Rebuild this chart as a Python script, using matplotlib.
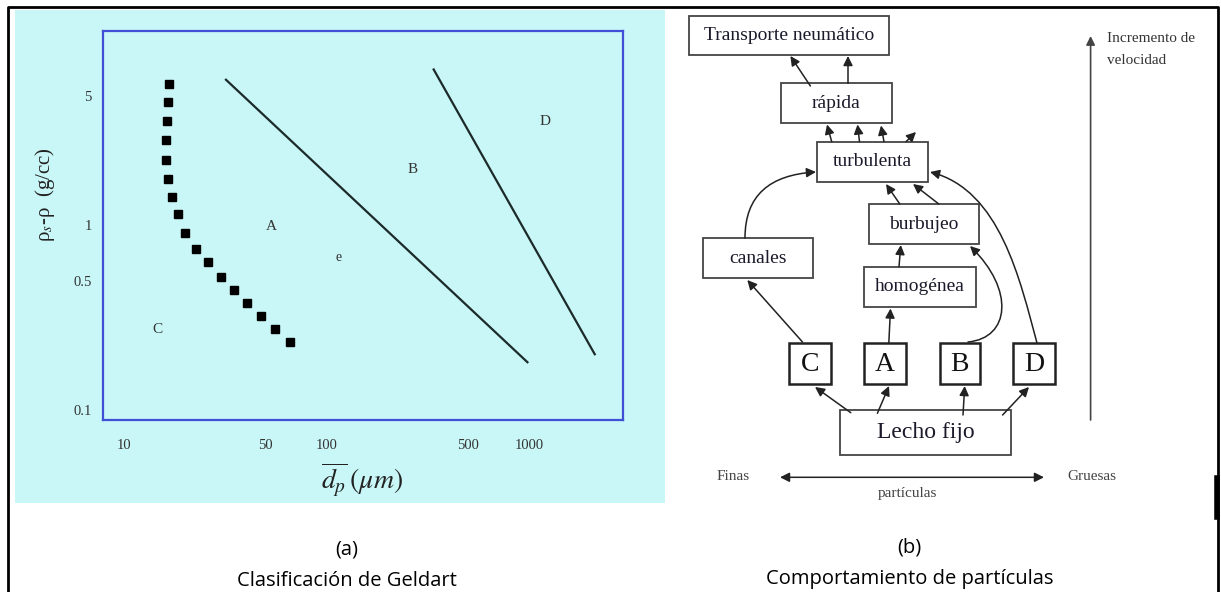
import matplotlib
matplotlib.use("Agg")
import matplotlib.pyplot as plt
from matplotlib.patches import Rectangle, FancyArrowPatch
from matplotlib.path import Path

plt.rcParams['font.family'] = ['Liberation Serif', 'DejaVu Serif']
plt.rcParams['mathtext.fontset'] = 'stix'

W, H = 1221, 592

# --- datos (a): clasificacion de Geldart ---
# frontera C/A (puntos cuadrados)
ca_dp = [16.8, 16.5, 16.3, 16.2, 16.2, 16.6, 17.2, 18.5, 20.1, 22.7, 25.9,
         30.1, 35.0, 40.7, 47.6, 55.6, 65.9]
ca_rho = [5.86, 4.64, 3.66, 2.89, 2.27, 1.79, 1.43, 1.15, 0.913, 0.742, 0.629,
          0.522, 0.447, 0.377, 0.323, 0.274, 0.232]
# frontera A/B
ab_dp = [31.9, 977]
ab_rho = [6.15, 0.181]
# frontera B/D
bd_dp = [337, 2097]
bd_rho = [6.99, 0.20]
# etiquetas de zona
zonas = ["A", "B", "C", "D", "e"]
zonas_dp = [53.1, 264, 14.7, 1189, 115]
zonas_rho = [0.98, 2.01, 0.273, 3.67, 0.667]
xticks = [10, 50, 100, 500, 1000]
yticks = [0.1, 0.5, 1, 5]

# --- datos (b): comportamiento de particulas ---
cajas = {
    "trans": ("Transporte neumático", (688.6, 15.7, 888.8, 55.0)),
    "rapida": ("rápida", (781.0, 83.3, 891.5, 123.3)),
    "turb": ("turbulenta", (817.3, 141.7, 928.4, 182.3)),
    "burb": ("burbujeo", (869.0, 204.0, 978.8, 244.3)),
    "canales": ("canales", (703.0, 238.3, 812.8, 278.3)),
    "homog": ("homogénea", (864.0, 266.7, 975.7, 306.7)),
    "lecho": ("Lecho fijo", (839.8, 410.0, 1011.3, 455.0)),
}
grupos = ["C", "A", "B", "D"]
grupos_x = [(789.4, 830.8), (864.0, 906.0), (939.5, 979.5), (1013.0, 1055.4)]
grupos_y = (343.3, 384.0)

flechas = [
    ((810.4, 86), (790.4, 56)), ((848, 83.3), (848, 56)),
    ((831.7, 141.7), (827, 124.5)), ((859.5, 141.7), (857.5, 124.5)),
    ((884, 141.7), (881, 125.5)), ((906, 141.7), (916, 132)),
    ((899.8, 204), (886, 184)), ((938.8, 204), (913, 184)),
    ((899, 266.7), (900.8, 245)), ((888.8, 343.3), (890.5, 308.5)),
    ((802.5, 342), (747.3, 280)),
    ((850.8, 412.7), (815, 387)), ((877.4, 413.3), (889, 386)),
    ((963, 415), (964.7, 386)), ((1002.6, 415), (1029, 387)),
]
curvas = [
    [(745, 238), (745, 195), (770, 175), (816, 172)],
    [(1037, 343), (1020, 280), (1000, 190), (930, 172)],
    [(968, 342), (1010, 338), (1015, 290), (970, 246)],
]

fig = plt.figure(figsize=(W / 100, H / 100), dpi=100)
fig.patch.set_facecolor("white")

bg = fig.add_axes([0, 0, 1, 1])
bg.set_xlim(0, W)
bg.set_ylim(H, 0)
bg.axis("off")

cyan = "#c9f7f7"
bg.add_patch(Rectangle((15, 10), 650, 493, facecolor=cyan, edgecolor="none"))
# marco general
bg.plot([8, 8, 1218, 1218], [592, 7, 7, 592], color="black", lw=2)
bg.plot([1217, 1217], [478, 517], color="black", lw=4)


def px(x0, y0, x1, y1):
    return [x0 / W, 1 - y1 / H, (x1 - x0) / W, (y1 - y0) / H]


ax = fig.add_axes(px(103, 31, 623, 420))
ax.set_facecolor(cyan)
ax.set_xscale("log")
ax.set_yscale("log")
ax.set_xlim(7.9, 2890)
ax.set_ylim(0.088, 11.3)
for s in ax.spines.values():
    s.set_color("#3f4fd6")
    s.set_linewidth(1.6)

ax.plot(ca_dp, ca_rho, linestyle="none", marker="s", markersize=5.3, color="black")
ax.plot(ab_dp, ab_rho, color="#1c2a2a", lw=1.6)
ax.plot(bd_dp, bd_rho, color="#1c2a2a", lw=1.6)
for z, xd, yd in zip(zonas, zonas_dp, zonas_rho):
    ax.text(xd, yd, z, fontsize=11 if z != "e" else 10, color="#333333",
            ha="center", va="center")

ax.set_xticks(xticks)
ax.set_xticklabels([str(t) for t in xticks])
ax.set_yticks(yticks)
ax.set_yticklabels([str(t) for t in yticks])
ax.minorticks_off()
ax.tick_params(axis="x", length=0, pad=14, labelsize=10.5, labelcolor="#333333")
ax.tick_params(axis="y", length=0, pad=8, labelsize=10.5, labelcolor="#333333")

ax.set_ylabel("ρ$_s$-ρ  (g/cc)", fontsize=15, color="#222222")
ax.yaxis.set_label_coords(-0.112, 0.58)
ax.yaxis.label.set_va("center")
ax.set_xlabel(r"$\overline{d_p}\,(\mu m)$", fontsize=20, color="#222222")
ax.xaxis.set_label_coords(0.498, -0.152)
ax.xaxis.label.set_va("center")

leg = Rectangle((415, 383.3), 201.7, 29.4, facecolor="#d3fbf8",
                edgecolor="#3cc8b4", lw=1.3, zorder=3)
bg.add_patch(leg)
bg.text(515.8, 398, "Diámetros. D>B>A>C", fontsize=12, ha="center",
        va="center", color="#333333", zorder=4)

cap = ['Open Sans', 'DejaVu Sans']
bg.text(347, 549, "(a)", family=cap, fontsize=14.5, ha="center", va="center")
bg.text(347, 581, "Clasificación de Geldart", family=cap, fontsize=14.5,
        ha="center", va="center")
bg.text(909.5, 547, "(b)", family=cap, fontsize=14.5, ha="center", va="center")
bg.text(909.5, 579, "Comportamiento de partículas", family=cap, fontsize=14.5,
        ha="center", va="center")

# --- diagrama (b) ---
for clave, (txt, (x0, y0, x1, y1)) in cajas.items():
    bg.add_patch(Rectangle((x0, y0), x1 - x0, y1 - y0, facecolor="white",
                           edgecolor="#444444", lw=1.3))
    fs = 17 if clave == "lecho" else 14
    bg.text((x0 + x1) / 2, (y0 + y1) / 2, txt, fontsize=fs, ha="center",
            va="center", color="#1a1a2a")

for g, (x0, x1) in zip(grupos, grupos_x):
    y0, y1 = grupos_y
    bg.add_patch(Rectangle((x0, y0), x1 - x0, y1 - y0, facecolor="white",
                           edgecolor="#222222", lw=1.8))
    bg.text((x0 + x1) / 2, (y0 + y1) / 2 + 1, g, fontsize=20, ha="center",
            va="center", color="#111111")

for (x0, y0), (x1, y1) in flechas:
    bg.annotate("", xy=(x1, y1), xytext=(x0, y0),
                arrowprops=dict(arrowstyle="-|>", color="#222222", lw=1.1,
                                mutation_scale=14, shrinkA=0, shrinkB=0))

for pts in curvas:
    path = Path(pts, [Path.MOVETO, Path.CURVE4, Path.CURVE4, Path.CURVE4])
    bg.add_patch(FancyArrowPatch(path=path, arrowstyle="-|>", color="#222222",
                                 lw=1.1, mutation_scale=14))

# eje de velocidad y tamaño
bg.annotate("", xy=(1090.6, 36), xytext=(1090.6, 420),
            arrowprops=dict(arrowstyle="-|>", color="#444444", lw=1.2,
                            mutation_scale=13, shrinkA=0, shrinkB=0))
bg.text(1107, 38, "Incremento de", fontsize=11, ha="left", va="center",
        color="#333333")
bg.text(1107, 61, "velocidad", fontsize=11, ha="left", va="center",
        color="#333333")
bg.annotate("", xy=(1044, 477.3), xytext=(780, 477.3),
            arrowprops=dict(arrowstyle="<|-|>", color="#222222", lw=1.1,
                            mutation_scale=14, shrinkA=0, shrinkB=0))
bg.text(733.5, 477, "Finas", fontsize=11, ha="center", va="center", color="#444444")
bg.text(1092, 477, "Gruesas", fontsize=11, ha="center", va="center", color="#444444")
bg.text(907.7, 493, "partículas", fontsize=11, ha="center", va="center",
        color="#444444")

fig.savefig("out.png", dpi=100, facecolor="white")
